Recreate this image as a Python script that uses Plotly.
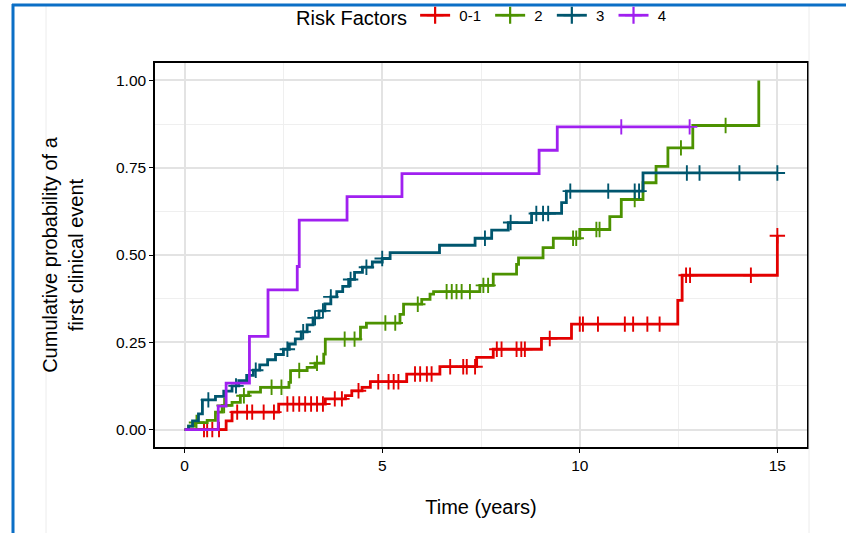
import plotly.graph_objects as go

# ---------------- data ----------------
groups = ["0-1", "2", "3", "4"]
colors = ["#E30000", "#4C9200", "#00566E", "#A020F0"]

# step (event) times and cumulative probability after the step
red_t = [1.05, 1.2, 2.38, 3.56, 4.07, 4.23, 4.49, 4.7, 5.62, 6.46, 7.39, 7.81, 9.03, 9.79, 12.48, 12.59, 15.0]
red_p = [0.025, 0.05, 0.073, 0.088, 0.097, 0.111, 0.121, 0.137, 0.159, 0.18, 0.207, 0.23, 0.261, 0.302, 0.37, 0.442, 0.555]
red_cens = [0.49, 0.57, 0.7, 0.87, 1.33, 1.58, 1.71, 2.0, 2.26, 2.6, 2.75, 2.9, 3.05, 3.2, 3.35, 3.5,
            3.8, 3.98, 4.4, 4.9, 5.16, 5.29, 5.41, 5.83, 5.96, 6.13, 6.25, 6.72, 7.05, 7.14, 7.35,
            7.9, 8.02, 8.4, 8.52, 8.61, 9.24, 10.0, 10.08, 10.46, 11.14, 11.35, 11.71, 12.02,
            12.69, 12.79, 14.33, 15.0]
red_end = 15.0

green_t = [0.1, 0.25, 0.57, 0.78, 0.95, 1.2, 1.41, 1.62, 1.92, 2.64, 2.68, 3.1, 3.3, 3.52, 3.56, 4.45,
           4.6, 5.45, 5.54, 6.0, 6.21, 6.3, 7.47, 7.81, 8.4, 8.45, 9.07, 9.33, 10.0, 10.76, 11.05,
           11.6, 11.93, 12.23, 12.86, 14.53]
green_p = [0.01, 0.02, 0.026, 0.05, 0.069, 0.078, 0.097, 0.107, 0.121, 0.135, 0.169, 0.178, 0.19, 0.216,
           0.259, 0.293, 0.305, 0.33, 0.359, 0.373, 0.388, 0.395, 0.413, 0.445, 0.473, 0.492, 0.521,
           0.548, 0.573, 0.61, 0.659, 0.707, 0.754, 0.807, 0.871, 1.0]
green_cens = [0.3, 1.0, 1.5, 2.2, 2.45, 2.9, 3.35, 4.05, 4.3, 5.08, 5.33, 5.9, 6.63, 6.76, 6.88, 7.01,
              7.22, 7.56, 7.68, 9.83, 9.91, 10.42, 10.5, 11.39, 12.56, 13.69]
green_end = 14.53

teal_t = [0.1, 0.2, 0.35, 0.45, 0.78, 0.99, 1.2, 1.37, 1.57, 1.74, 1.9, 2.1, 2.3, 2.5, 2.65, 2.8, 2.95,
          3.1, 3.25, 3.4, 3.55, 3.7, 3.85, 4.0, 4.15, 4.3, 4.5, 4.75, 5.0, 5.2, 6.45, 7.35, 7.77, 8.19,
          8.78, 9.54, 9.66, 11.6]
teal_p = [0.01, 0.025, 0.045, 0.085, 0.095, 0.11, 0.125, 0.14, 0.155, 0.17, 0.185, 0.2, 0.215, 0.23,
          0.245, 0.26, 0.28, 0.3, 0.32, 0.34, 0.36, 0.38, 0.395, 0.41, 0.43, 0.45, 0.465, 0.48, 0.49,
          0.507, 0.528, 0.548, 0.571, 0.593, 0.619, 0.65, 0.683, 0.735]
teal_cens = [0.6, 1.3, 1.8, 2.6, 3.0, 3.3, 3.5, 3.7, 4.2, 4.6, 5.0, 7.6, 8.25, 8.9, 9.07, 9.2, 9.76,
             10.72, 11.39, 11.5, 12.71, 13.03, 14.04, 15.0]
teal_end = 15.0

purple_t = [0.85, 1.05, 1.64, 2.11, 2.85, 2.9, 4.11, 5.5, 8.97, 9.43]
purple_p = [0.067, 0.133, 0.267, 0.4, 0.467, 0.6, 0.667, 0.733, 0.8, 0.867]
purple_cens = [11.05, 12.78]
purple_end = 12.78

series = [
    (red_t, red_p, red_cens, red_end),
    (green_t, green_p, green_cens, green_end),
    (teal_t, teal_p, teal_cens, teal_end),
    (purple_t, purple_p, purple_cens, purple_end),
]

x_ticks = [0, 5, 10, 15]
y_ticks = [0, 0.25, 0.5, 0.75, 1.0]
y_ticklabels = ["0.00", "0.25", "0.50", "0.75", "1.00"]

FONT = "Liberation Sans, Arial, Helvetica, sans-serif"
NB = "\u00a0"

fig = go.Figure()


def step_value(ts, ps, t):
    v = 0.0
    for ti, pi in zip(ts, ps):
        if ti <= t + 1e-9:
            v = pi
    return v


for name, col, (ts, ps, cens, tend) in zip(groups, colors, series):
    xs = [0.0] + list(ts)
    ys = [0.0] + list(ps)
    if xs[-1] < tend:
        xs.append(tend)
        ys.append(ys[-1])
    fig.add_trace(go.Scatter(x=xs, y=ys, mode="lines", line=dict(color=col, width=2.8, shape="hv"),
                             showlegend=False, legendgroup=name, hoverinfo="skip"))
    cy = [step_value(ts, ps, c) for c in cens]
    fig.add_trace(go.Scatter(x=cens, y=cy, mode="markers",
                             marker=dict(symbol="cross-thin", size=11, line=dict(color=col, width=1.9)),
                             showlegend=False, legendgroup=name, hoverinfo="skip"))

for name, col in zip(groups, colors):
    fig.add_trace(go.Scatter(x=[None], y=[None], mode="lines+markers", name=NB + name + NB,
                             legendgroup=name,
                             line=dict(color=col, width=2.8),
                             marker=dict(symbol="cross-thin", size=12, line=dict(color=col, width=2.2))))

W, H = 846, 533
L, R, T, B = 155, 39, 63, 86
pw, ph = W - L - R, H - T - B


def px2paper_x(px):
    return (px - L) / pw


def py2paper_y(py):
    return 1 - (py - T) / ph


shapes = [
    # faint outer image border
    dict(type="line", xref="paper", yref="paper", x0=px2paper_x(46), x1=px2paper_x(46),
         y0=py2paper_y(6), y1=py2paper_y(540), line=dict(color="#ececec", width=1)),
    dict(type="line", xref="paper", yref="paper", x0=px2paper_x(809), x1=px2paper_x(809),
         y0=py2paper_y(6), y1=py2paper_y(540), line=dict(color="#ececec", width=1)),
    # blue frame
    dict(type="line", xref="paper", yref="paper", x0=px2paper_x(12), x1=px2paper_x(850),
         y0=py2paper_y(5), y1=py2paper_y(5), line=dict(color="#0B6FC6", width=3)),
    dict(type="line", xref="paper", yref="paper", x0=px2paper_x(13), x1=px2paper_x(13),
         y0=py2paper_y(4), y1=py2paper_y(540), line=dict(color="#0B6FC6", width=3)),
]

fig.update_layout(
    width=W, height=H,
    margin=dict(l=L, r=R, t=T, b=B, autoexpand=False),
    paper_bgcolor="white", plot_bgcolor="white",
    font=dict(family=FONT, color="black"),
    shapes=shapes,
    legend=dict(orientation="h", x=0.5 + 4 / pw, xanchor="center", y=py2paper_y(-1), yanchor="top",
                title=dict(text="Risk Factors", font=dict(size=20), side="left"),
                font=dict(size=15), itemwidth=30, tracegroupgap=0, bgcolor="rgba(0,0,0,0)"),
    xaxis=dict(range=[-0.75, 15.75], tickvals=x_ticks, ticktext=[str(v) for v in x_ticks],
               showgrid=True, gridcolor="#e3e3e3", gridwidth=1.5,
               minor=dict(dtick=2.5, tick0=0, showgrid=True, gridcolor="#efefef", gridwidth=1),
               ticks="outside", ticklen=4, tickwidth=1.2, tickcolor="black",
               tickfont=dict(size=15.5), zeroline=False,
               showline=True, linecolor="black", linewidth=1.5, mirror=True,
               title=dict(text="Time (years)", font=dict(size=20), standoff=27)),
    yaxis=dict(range=[-0.05, 1.05], tickvals=y_ticks, ticktext=y_ticklabels,
               showgrid=True, gridcolor="#e3e3e3", gridwidth=1.5,
               minor=dict(dtick=0.125, tick0=0, showgrid=True, gridcolor="#efefef", gridwidth=1),
               ticks="outside", ticklen=4, tickwidth=1.2, tickcolor="black",
               tickfont=dict(size=15.5), zeroline=False,
               showline=True, linecolor="black", linewidth=1.5, mirror=True,
               title=dict(text="Cumulative probability of a<br>first clinical event",
                          font=dict(size=20), standoff=27)),
)

fig.write_html("out.html", config={"displayModeBar": False},
               post_script="document.body.style.margin='0';")
